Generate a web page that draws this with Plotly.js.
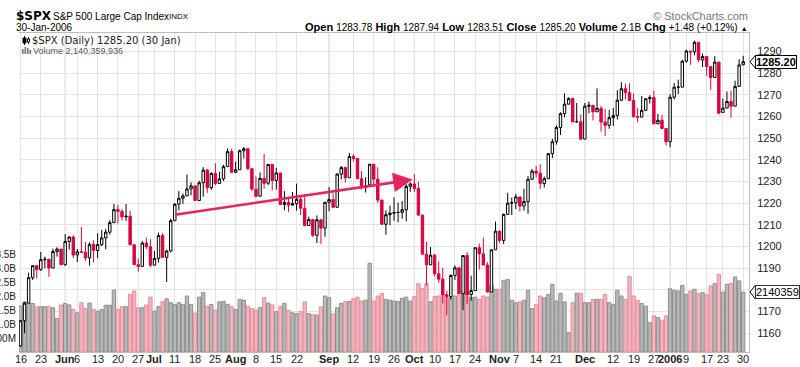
<!DOCTYPE html>
<html><head><meta charset="utf-8">
<script src="https://cdn.plot.ly/plotly-3.0.1.min.js"></script>
<style>html,body{margin:0;padding:0;background:#fff;}#chart{width:800px;height:367px;}</style>
</head><body><div id="chart"></div>
<script>
const dates = [
'2005-05-16','2005-05-17','2005-05-18','2005-05-19','2005-05-20','2005-05-23','2005-05-24','2005-05-25','2005-05-26','2005-05-27','2005-05-31',
'2005-06-01','2005-06-02','2005-06-03','2005-06-06','2005-06-07','2005-06-08','2005-06-09','2005-06-10','2005-06-13','2005-06-14','2005-06-15','2005-06-16','2005-06-17','2005-06-20','2005-06-21','2005-06-22','2005-06-23','2005-06-24','2005-06-27','2005-06-28','2005-06-29','2005-06-30',
'2005-07-01','2005-07-05','2005-07-06','2005-07-07','2005-07-08','2005-07-11','2005-07-12','2005-07-13','2005-07-14','2005-07-15','2005-07-18','2005-07-19','2005-07-20','2005-07-21','2005-07-22','2005-07-25','2005-07-26','2005-07-27','2005-07-28','2005-07-29',
'2005-08-01','2005-08-02','2005-08-03','2005-08-04','2005-08-05','2005-08-08','2005-08-09','2005-08-10','2005-08-11','2005-08-12','2005-08-15','2005-08-16','2005-08-17','2005-08-18','2005-08-19','2005-08-22','2005-08-23','2005-08-24','2005-08-25','2005-08-26','2005-08-29','2005-08-30','2005-08-31',
'2005-09-01','2005-09-02','2005-09-06','2005-09-07','2005-09-08','2005-09-09','2005-09-12','2005-09-13','2005-09-14','2005-09-15','2005-09-16','2005-09-19','2005-09-20','2005-09-21','2005-09-22','2005-09-23','2005-09-26','2005-09-27','2005-09-28','2005-09-29','2005-09-30',
'2005-10-03','2005-10-04','2005-10-05','2005-10-06','2005-10-07','2005-10-10','2005-10-11','2005-10-12','2005-10-13','2005-10-14','2005-10-17','2005-10-18','2005-10-19','2005-10-20','2005-10-21','2005-10-24','2005-10-25','2005-10-26','2005-10-27','2005-10-28','2005-10-31',
'2005-11-01','2005-11-02','2005-11-03','2005-11-04','2005-11-07','2005-11-08','2005-11-09','2005-11-10','2005-11-11','2005-11-14','2005-11-15','2005-11-16','2005-11-17','2005-11-18','2005-11-21','2005-11-22','2005-11-23','2005-11-25','2005-11-28','2005-11-29','2005-11-30',
'2005-12-01','2005-12-02','2005-12-05','2005-12-06','2005-12-07','2005-12-08','2005-12-09','2005-12-12','2005-12-13','2005-12-14','2005-12-15','2005-12-16','2005-12-19','2005-12-20','2005-12-21','2005-12-22','2005-12-23','2005-12-27','2005-12-28','2005-12-29','2005-12-30',
'2006-01-03','2006-01-04','2006-01-05','2006-01-06','2006-01-09','2006-01-10','2006-01-11','2006-01-12','2006-01-13','2006-01-17','2006-01-18','2006-01-19','2006-01-20','2006-01-23','2006-01-24','2006-01-25','2006-01-26','2006-01-27','2006-01-30'];

const opens = [
1154.05,1165.69,1173.80,1185.56,1191.08,1189.28,1193.86,1194.07,1190.01,1197.62,1198.78,
1191.50,1202.27,1204.29,1196.02,1197.51,1197.26,1194.67,1200.93,1198.11,1200.82,1203.91,1206.55,1210.93,1216.96,1216.10,1213.61,1213.88,1200.73,1191.57,1190.69,1201.57,1199.85,
1191.33,1194.44,1204.99,1194.94,1197.87,1211.86,1219.44,1222.21,1223.29,1226.50,1227.92,1221.13,1229.35,1235.20,1227.04,1233.68,1229.03,1231.16,1236.79,1243.72,
1234.18,1235.35,1244.12,1245.04,1235.86,1226.42,1223.13,1231.38,1229.13,1237.81,1230.40,1233.87,1219.34,1220.24,1219.02,1219.71,1221.73,1217.57,1209.59,1212.40,1205.10,1212.28,1208.41,
1220.33,1221.59,1218.02,1233.39,1236.36,1231.67,1241.48,1240.57,1231.20,1227.16,1228.42,1237.91,1231.02,1221.34,1210.20,1214.62,1215.29,1215.63,1215.66,1216.89,1227.68,
1228.81,1226.70,1214.47,1196.39,1191.49,1195.90,1187.33,1184.87,1177.68,1176.84,1186.57,1190.10,1178.14,1195.76,1177.80,1179.59,1199.38,1196.54,1191.38,1178.90,1198.41,
1207.01,1202.76,1214.76,1219.94,1220.14,1222.81,1218.59,1220.65,1230.96,1234.72,1233.76,1229.01,1231.21,1242.80,1248.27,1254.85,1261.23,1265.61,1268.25,1257.46,1257.48,
1249.48,1264.67,1265.08,1262.09,1263.70,1257.37,1255.84,1259.37,1260.43,1267.43,1272.74,1270.94,1267.32,1259.92,1259.62,1262.79,1268.12,1268.66,1256.54,1258.17,1254.42,
1248.29,1268.80,1273.46,1273.48,1285.45,1290.15,1289.72,1294.18,1286.06,1287.61,1282.93,1277.93,1285.04,1261.82,1263.82,1266.86,1264.68,1273.83,1283.78];

const highs = [
1165.75,1174.35,1187.90,1191.09,1191.22,1197.44,1195.29,1194.07,1198.95,1199.56,1198.78,
1205.64,1204.67,1205.09,1198.78,1208.85,1201.97,1201.86,1202.79,1206.03,1207.53,1208.08,1212.10,1219.55,1219.10,1217.13,1219.59,1216.45,1200.90,1194.33,1202.54,1204.07,1203.27,
1197.89,1206.34,1206.11,1198.46,1212.73,1220.03,1225.54,1224.46,1233.16,1229.53,1227.92,1230.34,1236.56,1235.83,1234.19,1238.36,1234.42,1237.64,1245.15,1245.04,
1239.10,1244.69,1245.86,1245.04,1235.86,1232.28,1234.11,1242.69,1237.81,1237.81,1236.24,1233.87,1225.49,1222.64,1225.08,1228.96,1223.04,1224.15,1213.73,1212.40,1214.28,1212.28,1220.36,
1227.29,1224.45,1233.61,1237.06,1236.36,1243.13,1242.60,1240.57,1234.74,1231.88,1237.95,1237.91,1236.49,1221.52,1216.64,1218.83,1222.56,1220.17,1220.98,1228.70,1229.57,
1233.34,1229.88,1214.47,1202.14,1199.71,1196.52,1193.10,1190.02,1179.56,1187.13,1191.21,1190.10,1195.76,1197.30,1186.46,1199.39,1201.30,1204.01,1192.65,1198.41,1211.43,
1207.34,1215.17,1224.70,1222.52,1224.18,1222.81,1226.59,1232.41,1235.70,1237.20,1237.94,1232.24,1242.96,1249.58,1255.89,1261.90,1270.64,1268.78,1268.44,1266.18,1260.93,
1266.17,1266.85,1265.08,1272.89,1264.85,1263.36,1263.08,1263.86,1272.11,1275.80,1275.17,1275.24,1270.51,1263.86,1269.37,1268.19,1269.76,1271.83,1261.10,1260.61,1254.42,
1270.22,1275.37,1276.91,1286.09,1290.78,1290.15,1294.90,1294.18,1288.96,1287.61,1282.93,1287.79,1285.04,1268.19,1271.47,1271.87,1276.44,1286.38,1287.94];

const lows = [
1153.64,1159.86,1173.80,1184.49,1185.19,1188.76,1189.87,1185.96,1190.01,1195.28,1191.50,
1191.03,1198.42,1194.55,1192.75,1197.26,1193.33,1191.09,1192.64,1194.51,1200.18,1198.66,1205.47,1210.93,1210.65,1211.86,1211.69,1200.72,1191.45,1188.30,1190.69,1198.70,1190.51,
1191.33,1192.49,1194.78,1183.55,1197.20,1211.86,1216.60,1219.64,1223.29,1223.50,1221.13,1221.13,1222.91,1224.70,1226.15,1228.15,1229.03,1230.15,1236.79,1234.18,
1233.80,1235.35,1240.57,1235.15,1225.62,1222.67,1223.13,1226.58,1228.33,1225.87,1226.20,1219.05,1216.64,1215.93,1219.02,1216.47,1214.44,1209.37,1209.57,1204.23,1201.53,1201.07,1204.40,
1216.18,1217.75,1218.02,1230.93,1229.51,1231.67,1239.15,1231.20,1226.16,1224.85,1228.42,1227.65,1220.07,1209.89,1205.35,1209.80,1211.84,1211.11,1212.72,1211.54,1225.22,
1225.15,1214.02,1196.25,1181.92,1191.46,1186.12,1183.16,1173.65,1168.20,1175.44,1184.48,1178.13,1170.55,1173.30,1174.92,1179.59,1189.29,1191.38,1178.89,1178.90,1198.41,
1201.66,1201.07,1214.76,1214.45,1217.29,1216.08,1216.53,1215.05,1230.72,1231.78,1226.41,1227.18,1231.21,1240.71,1246.90,1251.40,1259.51,1265.54,1257.17,1257.46,1249.39,
1249.48,1261.42,1258.12,1262.09,1253.02,1250.91,1254.24,1255.52,1258.56,1267.07,1267.74,1267.32,1259.28,1257.21,1259.62,1262.50,1265.92,1256.54,1256.54,1254.18,1246.59,
1245.74,1267.74,1270.30,1273.48,1284.82,1283.76,1288.12,1285.04,1282.78,1278.61,1272.08,1277.93,1260.92,1261.82,1263.82,1259.42,1264.68,1273.83,1283.51];

const closes = [
1165.69,1173.80,1185.56,1191.08,1189.28,1193.86,1194.07,1190.01,1197.62,1198.78,1191.50,
1202.22,1204.29,1196.02,1197.51,1197.26,1194.67,1200.93,1198.11,1200.82,1203.91,1206.58,1210.96,1216.96,1216.10,1213.61,1213.88,1200.73,1191.57,1190.69,1201.57,1199.85,1191.33,
1194.44,1204.99,1194.94,1197.87,1211.86,1219.44,1222.21,1223.29,1226.50,1227.92,1221.13,1229.35,1235.20,1227.04,1233.68,1229.03,1231.16,1236.79,1243.72,1234.18,
1235.35,1244.12,1245.04,1235.86,1226.42,1223.13,1231.38,1229.13,1237.81,1230.39,1233.87,1219.34,1220.24,1219.02,1219.71,1221.73,1217.59,1209.59,1212.37,1205.10,1212.28,1208.41,1220.33,
1221.59,1218.02,1233.39,1236.36,1231.67,1241.48,1240.56,1231.20,1227.16,1227.73,1237.91,1231.02,1221.34,1210.20,1214.62,1215.29,1215.63,1215.66,1216.89,1227.68,1228.81,
1226.70,1214.47,1196.39,1191.49,1195.90,1187.33,1184.87,1177.68,1176.84,1186.57,1190.10,1178.14,1195.76,1177.80,1179.59,1199.38,1196.54,1191.38,1178.90,1198.41,1207.01,
1202.76,1214.76,1219.94,1220.14,1222.81,1218.59,1220.65,1230.96,1234.72,1233.76,1229.01,1231.21,1242.80,1248.27,1254.85,1261.23,1265.61,1268.25,1257.46,1257.48,1249.48,
1264.67,1265.08,1262.09,1263.70,1257.37,1255.84,1259.37,1260.43,1267.43,1272.74,1270.94,1267.32,1259.92,1259.62,1262.79,1268.12,1268.66,1256.54,1258.17,1254.42,1248.29,
1268.80,1273.46,1273.48,1285.45,1290.15,1289.69,1294.18,1286.06,1287.61,1282.93,1277.93,1285.04,1261.49,1263.82,1266.86,1264.68,1273.83,1283.72,1285.20];

// volume in billions of shares
const volumes = [
1.64,1.79,1.75,1.73,1.61,1.62,1.62,1.62,1.58,1.20,1.68,
1.73,1.68,1.52,1.40,1.76,1.55,1.75,1.52,1.46,1.52,1.67,1.67,2.21,1.52,1.62,1.62,2.06,2.18,1.58,1.58,1.68,1.96,
1.46,1.62,1.80,1.90,1.76,1.70,1.76,1.70,2.00,1.70,1.39,1.96,2.12,1.64,1.70,1.50,1.79,1.81,1.70,1.62,
1.52,1.88,1.85,1.64,1.55,1.50,1.58,1.94,1.75,1.68,1.44,1.62,1.74,1.48,1.40,1.37,1.44,1.79,1.37,1.33,1.32,1.61,2.00,
1.94,1.36,1.58,1.73,1.80,1.80,1.90,1.96,1.82,1.85,3.17,1.82,2.00,2.09,1.88,1.85,1.82,1.80,1.92,1.96,1.82,
1.98,2.44,2.27,2.44,1.79,1.98,2.00,2.06,1.94,1.94,2.00,2.04,2.20,2.12,1.94,1.96,1.88,2.00,1.96,2.38,2.24,
2.24,2.56,2.59,1.85,1.76,1.79,1.85,2.20,1.55,1.70,2.00,1.94,2.06,2.42,1.82,2.10,1.79,0.69,1.76,2.10,2.10,
1.76,1.76,1.88,1.88,1.88,2.06,1.76,1.70,2.20,2.00,1.88,2.69,2.00,1.85,1.73,1.64,1.05,1.29,1.23,1.14,1.29,
2.26,2.20,2.18,2.38,2.06,2.18,2.24,2.08,2.12,2.04,2.36,2.44,2.77,2.14,2.42,2.45,2.68,2.54,2.14];

const tickDates  = ['2005-05-16','2005-05-23','2005-06-01','2005-06-06','2005-06-13','2005-06-20','2005-06-27','2005-07-01','2005-07-11','2005-07-18','2005-07-25','2005-08-01','2005-08-08','2005-08-15','2005-08-22','2005-09-01','2005-09-12','2005-09-19','2005-09-26','2005-10-03','2005-10-10','2005-10-17','2005-10-24','2005-11-01','2005-11-07','2005-11-14','2005-11-21','2005-12-01','2005-12-12','2005-12-19','2005-12-27','2006-01-03','2006-01-09','2006-01-17','2006-01-23','2006-01-30'];
const tickLabels = ['16','23','Jun','6','13','20','27','Jul','11','18','25','Aug','8','15','22','Sep','12','19','26','Oct','10','17','24','Nov','7','14','21','Dec','12','19','27','2006','9','17','23','30'];
const monthTicks = ['Jun','Jul','Aug','Sep','Oct','Nov','Dec','2006'];

const priceTicks = [1160,1170,1180,1190,1200,1210,1220,1230,1240,1250,1260,1270,1280,1290];
const volTicks = [0.5,1.0,1.5,2.0,2.5,3.0,3.5];
const volTickText = ['500M','1.0B','1.5B','2.0B','2.5B','3.0B','3.5B'];

const arrowFrom = {date:'2005-07-11', price:1214.5};
const arrowTo   = {date:'2005-10-03', price:1230.8};

const headerStats = [['Open','1283.78'],['High','1287.94'],['Low','1283.51'],['Close','1285.20'],['Volume','2.1B'],['Chg','+1.48 (+0.12%)']];

// ---------- build ----------
const RED = '#d7063f';
const idx = d => dates.indexOf(d);
const xs = dates.map((d,i)=>i);
const prevClose = i => i === 0 ? opens[0] : closes[i-1];
const isDown = xs.map(i => closes[i] < prevClose(i));

function subset(arr, flag){ return arr.filter((v,i)=>isDown[i]===flag); }

const volTrace = {
  type:'bar', x:xs, y:volumes, xaxis:'x', yaxis:'y', width:0.82,
  marker:{color: isDown.map(d=>d?'#f3b5be':'#b9b9b9'),
          line:{color: isDown.map(d=>d?'#e58d9c':'#8e8e8e'), width:1}},
  hoverinfo:'skip', showlegend:false
};
const blackCandles = {
  type:'candlestick', xaxis:'x', yaxis:'y2',
  x:subset(xs,false), open:subset(opens,false), high:subset(highs,false), low:subset(lows,false), close:subset(closes,false),
  increasing:{line:{color:'#000',width:1}, fillcolor:'#ffffff'},
  decreasing:{line:{color:'#000',width:1}, fillcolor:'#000000'},
  whiskerwidth:0, showlegend:false, hoverinfo:'skip'
};
const redCandles = {
  type:'candlestick', xaxis:'x', yaxis:'y2',
  x:subset(xs,true), open:subset(opens,true), high:subset(highs,true), low:subset(lows,true), close:subset(closes,true),
  increasing:{line:{color:RED,width:1}, fillcolor:'#ffffff'},
  decreasing:{line:{color:RED,width:1}, fillcolor:RED},
  whiskerwidth:0, showlegend:false, hoverinfo:'skip'
};

// pixel helpers for layout-only positions
const L=19, T=33, W=730, H=319;
const PX = x => (x-L)/W;
const PY = y => (T+H-y)/H;

const FONT = 'Liberation Sans, Arial, sans-serif';
const VFONT = 'DejaVu Sans, Verdana, sans-serif';
const n = closes.length-1;

const statText = headerStats.map(s=>'<b>'+s[0]+'</b> <span style="font-size:10px">'+s[1]+'</span>').join(' ')
  + ' <span style="font-size:7px">▲</span>';

const annotations = [
  {xref:'paper',yref:'paper',x:PX(14),y:PY(16),xanchor:'left',yanchor:'middle',showarrow:false,
   text:'<b>$SPX</b>',font:{family:VFONT,size:12,color:'#000'}},
  {xref:'paper',yref:'paper',x:PX(51),y:PY(16.5),xanchor:'left',yanchor:'middle',showarrow:false,
   text:'S&amp;P 500 Large Cap Index',font:{family:FONT,size:10,color:'#000'}},
  {xref:'paper',yref:'paper',x:PX(167),y:PY(17),xanchor:'left',yanchor:'middle',showarrow:false,
   text:'INDX',font:{family:FONT,size:8,color:'#000'}},
  {xref:'paper',yref:'paper',x:PX(14),y:PY(27.5),xanchor:'left',yanchor:'middle',showarrow:false,
   text:'30-Jan-2006',font:{family:FONT,size:10,color:'#000'}},
  {xref:'paper',yref:'paper',x:PX(750),y:PY(16),xanchor:'right',yanchor:'middle',showarrow:false,
   text:'© StockCharts.com',font:{family:FONT,size:11,color:'#777'}},
  {xref:'paper',yref:'paper',x:PX(750),y:PY(27),xanchor:'right',yanchor:'middle',showarrow:false,
   text:statText,font:{family:FONT,size:11,color:'#000'}},
  {xref:'paper',yref:'paper',x:PX(30),y:PY(40.5),xanchor:'left',yanchor:'middle',showarrow:false,
   text:'$SPX (Daily) '+closes[n].toFixed(2)+' (30 Jan)',font:{family:VFONT,size:10,color:'#222'}},
  {xref:'paper',yref:'paper',x:PX(31),y:PY(51),xanchor:'left',yanchor:'middle',showarrow:false,
   text:'Volume 2,140,359,936',font:{family:FONT,size:9,color:'#555'}},
  // last price tag
  {xref:'paper',yref:'y2',x:PX(755),y:closes[n],xanchor:'left',yanchor:'middle',showarrow:false,
   text:'<b>'+closes[n].toFixed(2)+'</b>',font:{family:FONT,size:11,color:'#000'},
   bgcolor:'#fff',bordercolor:'#000',borderwidth:1,borderpad:0},
  // last volume tag
  {xref:'paper',yref:'y',x:PX(755),y:volumes[n],xanchor:'left',yanchor:'middle',showarrow:false,
   text:'2140359',font:{family:FONT,size:11,color:'#000'},
   bgcolor:'#fff',bordercolor:'#333',borderwidth:1,borderpad:0},
  // trend arrow
  {xref:'x',yref:'y2',axref:'x',ayref:'y2',
   x:idx(arrowTo.date)-0.4,y:arrowTo.price,ax:idx(arrowFrom.date)-0.3,ay:arrowFrom.price,
   text:'',showarrow:true,arrowhead:2,arrowsize:1.5,arrowwidth:2.6,arrowcolor:'#e8245c',standoff:0}
];
// x tick labels (placed just under the plot, as in the reference)
tickDates.forEach((d,k)=>{
  const t = tickLabels[k];
  annotations.push({xref:'x',yref:'paper',x:idx(d),y:PY(359),xanchor:'center',yanchor:'middle',showarrow:false,
    text: monthTicks.indexOf(t)>=0 ? '<b>'+t+'</b>' : t, font:{family:FONT,size:11,color:'#222'}});
});

const shapes = [];
// darker month gridlines
tickDates.forEach((d,k)=>{
  if (monthTicks.indexOf(tickLabels[k])>=0){
    shapes.push({type:'line',xref:'x',yref:'paper',x0:idx(d),x1:idx(d),y0:0,y1:1,layer:'below',
                 line:{color:'#cfcfcf',width:1}});
  }
});
// pointers for the tags
const tri = (yref, yv, dy) => ({type:'path',xref:'paper',yref:yref,layer:'above',
  path:`M ${PX(750)} ${yv} L ${PX(755.5)} ${yv+dy} L ${PX(755.5)} ${yv-dy} Z`,
  fillcolor:'#fff',line:{color:'#000',width:1}});
shapes.push(tri('y2', closes[n], 3.0));
shapes.push(tri('y', volumes[n], 0.25));
// legend icons
shapes.push({type:'line',xref:'paper',yref:'paper',x0:PX(24.5),x1:PX(24.5),y0:PY(36),y1:PY(45),line:{color:'#000',width:1}});
shapes.push({type:'rect',xref:'paper',yref:'paper',x0:PX(23),x1:PX(26),y0:PY(38),y1:PY(43),fillcolor:'#000',line:{color:'#000',width:1}});
shapes.push({type:'line',xref:'paper',yref:'paper',x0:PX(28.5),x1:PX(28.5),y0:PY(37),y1:PY(44),line:{color:'#000',width:1}});
shapes.push({type:'rect',xref:'paper',yref:'paper',x0:PX(27.5),x1:PX(29.5),y0:PY(39),y1:PY(42),fillcolor:'#fff',line:{color:'#000',width:1}});
[[22,49],[24.5,47],[27,48],[29.5,50]].forEach(b=>{
  shapes.push({type:'rect',xref:'paper',yref:'paper',x0:PX(b[0]),x1:PX(b[0]+1.6),y0:PY(54),y1:PY(b[1]),fillcolor:'#777',line:{width:0}});
});

const layout = {
  width:800, height:367,
  margin:{l:L, r:800-L-W, t:T, b:367-T-H, pad:0},
  paper_bgcolor:'#fff', plot_bgcolor:'#fff',
  showlegend:false, boxgap:0.15,
  font:{family:FONT, size:11, color:'#222'},
  xaxis:{range:[-0.37,179.43], tickmode:'array', tickvals:tickDates.map(idx), showticklabels:false,
         ticks:'', showgrid:true, gridcolor:'#e4e4e4', gridwidth:1,
         zeroline:false, showline:true, mirror:true, linecolor:'#bdbdbd', linewidth:1,
         rangeslider:{visible:false}, fixedrange:true, automargin:false},
  yaxis:{range:[0, H/28], side:'left', tickmode:'array', tickvals:volTicks, ticktext:volTickText,
         tickfont:{family:FONT,size:10,color:'#222'}, ticks:'', showgrid:false, zeroline:false,
         showline:false, fixedrange:true, automargin:false, ticklabelstandoff:2},
  yaxis2:{range:[1280-(H+T-73)/2.167, 1280+(73-T)/2.167], overlaying:'y', side:'right', tickmode:'array', tickvals:priceTicks,
          tickfont:{family:FONT,size:11,color:'#222'}, ticks:'', showgrid:true, gridcolor:'#e4e4e4', gridwidth:1,
          zeroline:false, showline:true, linecolor:'#bdbdbd', linewidth:1, fixedrange:true, automargin:false,
          ticklabelstandoff:5},
  annotations:annotations, shapes:shapes
};

Plotly.newPlot('chart',[volTrace, blackCandles, redCandles], layout, {displayModeBar:false, staticPlot:true});
</script>
</body></html>
